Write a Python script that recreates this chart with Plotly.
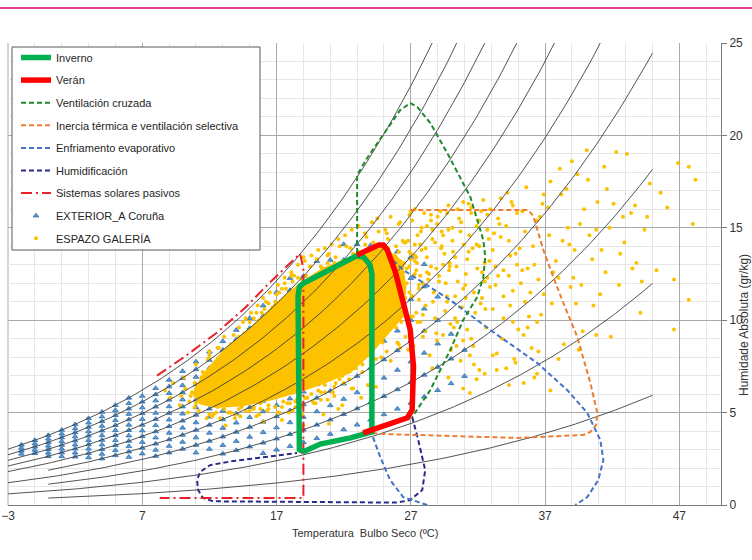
import numpy as np
import plotly.graph_objects as go

FONT = "Liberation Sans, Arial, sans-serif"

# ---------------- axes ----------------
x_range = [-3, 50.1]
y_range = [0, 25]
x_ticks = [-3, 7, 17, 27, 37, 47]
y_ticks = [0, 5, 10, 15, 20, 25]

# ---------------- relative humidity curves (psychrometric grid) ----------------
rh_levels = [100, 90, 80, 70, 60, 50, 40, 30, 20, 10]
rh_start_t = [-3, -3, -3, -3, -3, 0, -3, 0, -3, 0]
rh_end_t = 45.0

# ---------------- comfort / strategy zones (T ºC, W g/kg) ----------------
inverno_t = [19.0, 20.25, 22.5, 24.1, 24.1, 23.95, 23.5, 23.0, 19.0, 18.7, 18.6, 18.6, 18.7, 19.0]
inverno_w = [2.88, 3.3, 3.63, 3.95, 12.5, 13.0, 13.4, 13.5, 12.0, 11.8, 11.3, 3.3, 3.0, 2.88]

veran_t = [23.0, 24.0, 24.6, 24.95, 25.25, 25.85, 26.35, 26.95, 27.2, 27.1, 26.75, 25.7, 23.45]
veran_w = [13.53, 13.85, 14.07, 14.07, 13.8, 12.6, 11.1, 9.5, 7.5, 5.15, 4.72, 4.44, 3.9]

vent_t = [23.0, 23.0, 23.75, 24.5, 25.46, 26.21, 26.96, 27.48, 28.45, 29.71, 31.43, 32.4, 32.54,
          32.4, 31.95, 30.9, 29.94, 28.45, 27.1]
vent_w = [13.64, 17.86, 18.78, 19.59, 20.56, 21.37, 21.75, 21.54, 20.67, 19.05, 16.67, 14.34, 13.42,
          12.34, 11.26, 10.01, 8.39, 6.22, 4.76]

inercia_t = [26.96, 35.75, 36.12, 36.87, 37.61, 38.36, 39.4, 40.37, 40.89, 40.8, 40.37, 39.85,
             34.93, 29.94, 24.94, 24.12]
inercia_w = [15.96, 15.96, 15.64, 13.8, 12.34, 10.93, 9.09, 6.6, 4.98, 4.33, 3.95, 3.79,
             3.63, 3.73, 3.84, 3.9]

evap_t = [25.24, 26.43, 29.94, 32.92, 36.42, 38.65, 40.14, 41.11, 41.34, 40.96, 40.14, 39.25,
          None, 28.22, 26.43, 25.46, 24.72, 24.12]
evap_w = [13.53, 12.72, 11.09, 9.47, 7.68, 6.22, 4.98, 3.52, 2.44, 1.35, 0.43, 0.0,
          None, 0.0, 0.43, 1.35, 2.6, 3.79]

humid_t = [27.1, 27.55, 28.07, 27.85, 26.96, 25.99, 12.28, 11.53, 11.16, 11.08, 11.31, 12.05,
           13.77, 16.3, 18.53]
humid_w = [4.76, 3.52, 1.89, 0.81, 0.27, 0.13, 0.2, 0.38, 0.81, 1.35, 1.79, 2.16,
           2.38, 2.6, 2.81]

solar_t = [8.1, 10.2, 12.6, 14.7, 16.3, 17.8, 18.75, 19.0, 19.0, 8.3]
solar_w = [7.0, 8.05, 9.35, 10.7, 11.9, 12.95, 13.6, 12.8, 0.38, 0.38]

# ---------------- EXTERIOR_A Coruña (T ºC integer, RH % range observed, 5 % steps) ----------------
exterior_t = list(range(-2, 32))
exterior_rh_min = [85, 80, 70, 65, 60, 55, 50, 50, 45, 45, 40, 40, 40, 35, 35, 30, 30, 30,
                   25, 25, 25, 25, 25, 25, 25, 25, 25, 25, 25, 25, 25, 25, 25, 25]
exterior_rh_max = [100, 100, 100, 100, 100, 100, 100, 100, 100, 95, 95, 95, 95, 95, 95, 95, 95, 95,
                   95, 95, 95, 90, 90, 85, 85, 80, 75, 70, 65, 60, 55, 45, 35, 30]
exterior_rh_step = 5

# ---------------- ESPAZO GALERÍA ----------------
# dense core region of the cloud (solid yellow)
galeria_core_t = [10.8, 11.5, 13.0, 15.0, 17.0, 18.8, 20.5, 23.0, 25.0, 26.3, 26.6, 26.4, 25.3,
                  24.0, 22.5, 20.5, 18.5, 16.5, 14.5, 12.5, 11.3, 10.8]
galeria_core_w = [6.0, 7.0, 8.3, 9.5, 10.9, 12.0, 12.8, 13.5, 13.9, 13.2, 11.8, 10.2, 9.3,
                  8.2, 7.2, 6.6, 6.1, 5.7, 5.4, 5.3, 5.5, 6.0]
# individual readings around / beyond the core
galeria_t = [
    8.7, 9.3, 9.8, 10.1, 10.4, 10.7, 9.1, 10.9,
    11.2, 11.5, 11.8, 12.0, 12.3, 12.5, 12.7, 12.9, 11.4, 12.2, 12.6, 11.9,
    13.1, 13.4, 13.6, 13.9, 14.2, 14.4, 14.7, 14.9, 13.3, 13.8, 14.1, 14.6, 13.5, 14.8,
    15.1, 15.3, 15.6, 15.8, 16.0, 16.3, 16.5, 16.8, 15.4, 15.9, 16.2, 16.7, 15.2, 16.9,
    17.1, 17.4, 17.6, 17.9, 18.1, 18.4, 18.6, 18.9, 17.3, 17.8, 18.2, 18.7, 17.5, 18.5,
    19.1, 19.3, 19.6, 19.8, 20.1, 20.3, 20.6, 20.8, 19.4, 19.9, 20.2, 20.7, 19.2, 20.5,
    21.1, 21.4, 21.6, 21.9, 22.1, 22.4, 22.6, 22.9, 21.3, 21.8, 22.2, 22.7, 21.5, 22.5,
    23.1, 23.4, 23.6, 23.9, 24.1, 24.4, 24.6, 24.9, 23.3, 23.8, 24.2, 24.7, 23.5, 24.5,
    17.6, 18.3, 18.9, 19.5, 20.0, 20.4, 20.9, 21.3, 21.7, 19.0,
    17.4, 18.2, 19.0, 19.7, 20.5, 21.2, 21.9, 22.6, 23.3, 23.8, 18.7, 20.9,
    25.1, 25.2, 25.4, 25.5, 25.7, 25.8, 26.0, 26.1, 26.3, 26.4, 26.6, 26.7, 26.9, 25.3, 25.9, 26.2, 26.5, 26.8, 25.6, 26.95,
    27.1, 27.2, 27.4, 27.5, 27.7, 27.8, 28.0, 28.1, 28.3, 28.4, 28.6, 28.7, 28.9, 27.3, 27.9, 28.2, 28.5, 28.8, 27.6, 28.95,
    29.1, 29.2, 29.4, 29.5, 29.7, 29.8, 30.0, 30.1, 30.3, 30.4, 30.6, 30.7, 30.9, 29.3, 29.9, 30.2, 30.5, 30.8, 29.6, 30.95,
    31.1, 31.3, 31.4, 31.6, 31.8, 31.9, 32.1, 32.3, 32.4, 32.6, 32.8, 32.9, 31.2, 31.7, 32.2, 32.7, 31.5, 32.5,
    33.2, 33.4, 33.7, 33.9, 34.1, 34.4, 34.6, 34.9, 33.5, 34.2, 33.1, 34.7,
    35.1, 35.4, 35.6, 35.9, 36.2, 36.4, 36.7, 36.9, 35.3, 36.5,
    37.2, 37.5, 37.8, 38.1, 38.4, 38.7, 38.9, 37.4, 38.3,
    39.1, 39.4, 39.8, 40.1, 40.3, 40.6, 40.9, 39.6,
    41.2, 41.6, 41.9, 42.3, 42.5, 42.8, 41.4,
    43.1, 43.5, 43.7, 44.1, 44.4, 44.8,
    45.6, 46.6, 46.9, 47.7, 48.2, 48.0, 47.7, 46.6,
    28.6, 29.8, 30.9, 31.4, 32.5, 33.4, 34.3, 35.4, 36.4, 37.4,
    24.1, 24.3, 24.5, 24.7, 24.9, 25.1, 25.3, 25.5, 25.7, 25.9, 26.1, 26.3, 26.5, 26.7, 26.9, 27.1, 27.3, 27.5, 27.7, 27.9, 24.6, 25.4, 26.2, 27.0,
    11.0, 11.4, 11.9, 12.3, 12.8, 13.0, 13.4, 13.9, 14.2, 14.6, 15.0, 15.3, 15.7, 16.1, 16.4, 16.9, 17.2, 17.7, 18.2, 18.6, 12.1, 13.6, 15.9, 17.0,
    19.2, 19.7, 20.3, 20.8, 21.4, 21.9, 22.5, 23.1, 23.6, 24.2, 24.8, 25.3,
    25.9, 26.4, 26.7, 26.6, 26.5, 26.9, 26.3, 25.6, 27.2, 27.0,
    25.2, 24.6, 23.9, 23.5, 22.8, 22.4, 21.7, 21.3, 24.1, 23.0,
    20.6, 20.1, 19.6, 19.1, 18.5, 18.0, 17.5, 16.9, 16.4, 15.8, 15.3, 14.7, 14.2, 13.6, 13.1, 12.6, 12.0, 11.5, 20.3, 18.9, 17.2, 15.5, 13.9, 12.3,
    11.0, 10.6, 11.3, 10.9,
    27.15, 27.45, 27.75, 28.05, 28.35, 28.65, 28.95, 29.25, 29.55, 29.85, 27.3, 27.6, 27.9, 28.2, 28.5, 28.8, 29.1, 29.4, 29.7, 29.95,
    30.15, 30.45, 30.75, 31.05, 31.35, 31.65, 31.95, 32.25, 32.55, 32.85, 30.3, 30.9, 31.5, 32.1, 32.7, 31.2,
    33.3, 33.6, 33.9, 34.3, 34.6, 34.9, 35.3, 35.7, 36.1, 36.5, 36.8, 33.8, 34.5, 35.5,
    37.6, 38.2, 38.8, 39.3, 39.9, 40.5, 41.1, 41.8, 42.6, 43.4, 44.2, 39.0,
    30.4, 31.9, 33.1, 34.8, 36.0, 38.0, 39.5, 40.8,
    12.0, 12.8, 13.5, 14.3, 15.0, 15.7, 16.4, 17.1, 17.8, 18.4, 19.2, 19.9, 20.6, 21.3, 22.0, 22.7, 23.4, 24.1, 24.8, 25.5, 26.1, 26.8, 13.2, 16.0, 18.9, 21.6, 24.4,
    27.0, 27.3, 27.1, 27.4, 26.9, 27.6, 26.8,
    11.0, 12.0, 12.6, 13.8, 14.5, 15.5, 16.2, 17.4, 18.1, 19.5, 20.8, 22.2, 23.7, 25.2,
    10.2, 10.5, 9.9,
    26.2, 26.6, 27.0, 27.4, 27.8, 28.2, 28.6, 29.0, 29.4, 29.8, 26.4, 26.9, 27.3, 27.7, 28.1, 28.5, 28.9, 29.3, 29.7, 29.9,
    30.1, 30.5, 30.9, 31.3, 31.7, 32.1, 32.5, 32.9, 33.3, 33.7, 30.3, 30.7, 31.1, 31.5, 31.9, 32.3, 32.7, 33.1, 33.5, 33.9,
    34.1, 34.4, 34.8, 35.2, 35.5, 35.8, 36.2, 36.6, 36.9, 34.6, 35.0, 35.7, 36.4, 34.3,
    37.3, 38.0, 38.6, 39.2, 39.7, 40.2, 40.8, 41.5, 42.1, 42.9, 43.8, 44.6, 45.3, 46.1,
]
galeria_w = [
    6.2, 6.6, 5.4, 6.9, 5.0, 6.1, 5.8, 5.3,
    5.1, 7.2, 4.7, 8.1, 6.4, 5.0, 8.5, 7.6, 6.3, 4.8, 6.9, 7.9,
    9.1, 5.0, 8.7, 4.9, 9.6, 5.3, 10.1, 5.6, 7.0, 6.2, 8.0, 7.4, 5.4, 9.0,
    10.4, 5.2, 10.8, 5.5, 11.2, 5.1, 11.5, 5.9, 7.9, 9.2, 6.8, 10.7, 6.1, 8.4,
    11.9, 5.3, 12.3, 5.0, 12.6, 5.6, 13.0, 5.4, 8.6, 10.1, 7.2, 11.4, 6.4, 9.7,
    13.2, 5.8, 13.5, 5.5, 13.8, 6.1, 13.9, 5.7, 9.3, 11.6, 8.0, 12.5, 7.1, 10.4,
    14.1, 6.6, 14.4, 7.0, 14.6, 6.8, 14.9, 7.4, 10.2, 12.9, 8.6, 13.6, 7.8, 11.3,
    15.1, 7.6, 14.7, 8.2, 15.3, 7.9, 14.8, 8.8, 11.0, 13.9, 9.4, 12.6, 8.5, 15.5,
    12.0, 12.4, 12.2, 12.9, 13.3, 12.8, 13.6, 13.1, 14.0, 13.4,
    4.6, 5.1, 4.3, 5.6, 4.9, 6.1, 5.4, 6.3, 5.8, 6.5, 5.9, 4.4,
    14.9, 8.3, 12.1, 15.6, 9.7, 13.5, 8.8, 15.2, 11.4, 14.3, 9.1, 12.8, 15.7, 10.6, 14.0, 8.5, 13.1, 10.0, 11.8, 9.4,
    15.4, 8.6, 12.7, 14.6, 9.9, 13.8, 15.8, 10.8, 12.2, 8.1, 14.9, 11.5, 9.3, 13.2, 10.3, 15.1, 12.9, 14.2, 11.1, 8.9,
    12.4, 15.9, 9.2, 13.6, 11.0, 16.2, 8.4, 14.3, 10.1, 12.9, 15.5, 7.8, 11.7, 14.8, 13.1, 9.6, 16.0, 10.7, 12.0, 14.1,
    11.2, 16.3, 8.1, 13.9, 10.4, 15.1, 7.3, 12.6, 16.5, 9.6, 14.4, 11.8, 13.3, 7.6, 10.9, 15.7, 9.0, 12.1,
    14.7, 8.2, 16.6, 11.3, 7.4, 13.5, 9.9, 15.8, 12.4, 16.9, 10.6, 7.9,
    13.9, 9.2, 17.2, 11.5, 6.9, 15.4, 10.3, 16.8, 12.7, 8.3,
    16.1, 10.9, 13.2, 18.2, 8.7, 15.0, 11.8, 17.5, 14.3,
    12.3, 17.9, 9.4, 19.2, 14.6, 10.8, 16.4, 15.2,
    13.8, 17.1, 9.1, 19.1, 11.9, 15.6, 18.3,
    19.0, 12.8, 16.2, 10.4, 14.9, 17.4,
    16.9, 12.2, 18.5, 18.3, 17.6, 15.2, 11.1, 9.5,
    7.4, 6.9, 6.3, 6.06, 7.1, 7.3, 6.5, 6.6, 7.1, 6.2,
    12.2, 10.4, 13.8, 11.1, 9.8, 13.0, 14.4, 10.9, 12.5, 9.6, 13.7, 11.6, 14.2, 10.1, 12.9, 11.3, 13.5, 9.9, 14.1, 12.0, 10.7, 11.9, 12.7, 13.3,
    6.3, 6.9, 7.0, 7.5, 7.6, 8.2, 8.4, 8.5, 9.1, 9.3, 9.9, 10.1, 10.0, 10.6, 10.9, 11.0, 11.5, 11.7, 12.1, 12.3, 6.8, 7.9, 10.4, 11.4,
    12.4, 12.2, 12.9, 13.1, 13.4, 13.2, 13.9, 13.7, 14.1, 14.2, 14.0, 13.9,
    13.4, 12.6, 12.0, 11.2, 10.6, 11.5, 9.9, 9.8, 12.4, 10.2,
    9.3, 9.2, 8.6, 8.2, 8.0, 7.2, 6.8, 6.4, 9.0, 7.6,
    6.5, 6.2, 6.0, 5.8, 5.7, 5.5, 5.6, 5.3, 5.4, 5.2, 5.3, 5.1, 5.2, 5.0, 5.2, 5.3, 5.5, 5.7, 5.7, 5.3, 5.0, 4.8, 4.7, 4.9,
    5.5, 5.9, 6.1, 6.6,
    10.2, 13.1, 14.8, 9.4, 12.5, 11.0, 15.2, 13.9, 10.5, 12.7, 14.1, 11.7, 9.1, 13.4, 15.4, 10.1, 12.1, 14.6, 11.3, 9.8,
    13.7, 9.9, 15.3, 11.9, 14.6, 8.6, 12.8, 15.9, 10.6, 13.2, 11.3, 8.9, 16.1, 14.0, 12.3, 9.5,
    12.9, 15.2, 10.1, 14.3, 11.6, 13.0, 15.9, 9.6, 14.0, 12.2, 16.3, 9.0, 16.4, 11.0,
    12.6, 16.8, 14.1, 10.9, 16.0, 13.3, 11.4, 15.0, 13.6, 15.8, 12.1, 18.6,
    8.6, 6.8, 8.1, 7.7, 8.5, 7.9, 8.4, 9.2,
    4.9, 4.7, 5.0, 4.8, 5.1, 4.9, 5.2, 5.0, 5.5, 5.3, 5.8, 5.5, 6.1, 5.9, 6.6, 6.3, 7.2, 7.0, 8.0, 7.8, 8.7, 8.4, 4.3, 4.5, 4.9, 5.2, 6.4,
    13.6, 12.5, 11.3, 10.4, 9.6, 11.9, 14.3,
    7.6, 8.3, 8.5, 9.2, 9.9, 10.4, 11.0, 11.7, 12.4, 12.9, 13.5, 14.0, 14.5, 14.7,
    6.3, 5.6, 5.9,
    15.3, 14.2, 15.9, 13.4, 15.0, 12.6, 14.4, 15.6, 13.0, 14.9, 12.9, 13.7, 16.0, 12.4, 13.9, 15.7, 12.8, 14.0, 15.8, 12.9,
    15.0, 12.1, 16.4, 13.7, 11.5, 15.4, 13.1, 16.0, 11.9, 14.5, 13.4, 14.8, 12.5, 15.8, 14.1, 11.2, 14.9, 13.8, 15.5, 12.7,
    15.1, 10.8, 13.6, 12.0, 14.8, 10.2, 13.0, 15.6, 11.4, 16.2, 9.5, 12.8, 9.9, 12.4,
    14.6, 12.3, 17.1, 13.8, 11.9, 17.6, 14.9, 12.6, 16.3, 14.2, 13.1, 15.6, 12.7, 16.1,
]


def humidity_ratio(t, rh):
    """Humidity ratio (g/kg) at sea level for dry-bulb t (ºC) and relative humidity rh (%)."""
    t = np.asarray(t, dtype=float)
    pws = 0.61078 * np.exp(17.27 * t / (t + 237.3))
    pw = rh / 100.0 * pws
    return 622.0 * pw / (101.325 - pw)


# ---------- build derived arrays ----------
curve_x, curve_y = [], []
for rh, t0 in zip(rh_levels, rh_start_t):
    ts = np.arange(t0, rh_end_t + 1e-9, 0.25)
    ws = humidity_ratio(ts, rh)
    keep = ws <= 27
    curve_x += list(ts[keep]) + [None]
    curve_y += list(ws[keep]) + [None]

ext_x, ext_y = [], []
for t, lo, hi in zip(exterior_t, exterior_rh_min, exterior_rh_max):
    for rh in range(lo, hi + 1, exterior_rh_step):
        ext_x.append(t)
        ext_y.append(float(humidity_ratio(t, rh)))

n_gal = min(len(galeria_t), len(galeria_w))

fig = go.Figure()

# EXTERIOR
fig.add_trace(go.Scatter(
    x=ext_x, y=ext_y, mode="markers", name="EXTERIOR_A Coruña",
    marker=dict(symbol="triangle-up", size=5, color="#5b9bd5",
                line=dict(color="#2f6fad", width=0.8)),
    legendrank=8, legendgroup="ext", hoverinfo="skip"))

# ESPAZO GALERÍA dense core + points
fig.add_trace(go.Scatter(
    x=galeria_core_t, y=galeria_core_w, mode="lines", fill="toself",
    fillcolor="#fcc200", line=dict(color="#fcc200", width=2),
    showlegend=False, legendgroup="gal", legendrank=9, hoverinfo="skip"))
fig.add_trace(go.Scatter(
    x=galeria_t[:n_gal], y=galeria_w[:n_gal], mode="markers", name="ESPAZO GALERÍA",
    marker=dict(symbol="circle", size=4, color="#fcc200"),
    legendrank=9, legendgroup="gal", hoverinfo="skip"))

# RH curves
fig.add_trace(go.Scatter(
    x=curve_x, y=curve_y, mode="lines", line=dict(color="#404040", width=0.9),
    showlegend=False, hoverinfo="skip", connectgaps=False))

dash_s = "5px,3px"
fig.add_trace(go.Scatter(x=humid_t, y=humid_w, mode="lines", name="Humidificación",
                         line=dict(color="#2b2a86", width=2, dash=dash_s),
                         legendrank=6, legendgroup="hum", hoverinfo="skip"))
fig.add_trace(go.Scatter(x=evap_t, y=evap_w, mode="lines", name="Enfriamento evaporativo",
                         line=dict(color="#4472c4", width=2, dash=dash_s),
                         legendrank=5, legendgroup="evap", hoverinfo="skip", connectgaps=False))
fig.add_trace(go.Scatter(x=inercia_t, y=inercia_w, mode="lines",
                         name="Inercia térmica e ventilación selectiva",
                         line=dict(color="#ed7d31", width=2, dash=dash_s),
                         legendrank=4, legendgroup="in", hoverinfo="skip"))
fig.add_trace(go.Scatter(x=vent_t, y=vent_w, mode="lines", name="Ventilación cruzada",
                         line=dict(color="#1e8a2a", width=2, dash=dash_s),
                         legendrank=3, legendgroup="vc", hoverinfo="skip"))
fig.add_trace(go.Scatter(x=solar_t, y=solar_w, mode="lines", name="Sistemas solares pasivos",
                         line=dict(color="#e8202a", width=2, dash="11px,4px,2px,4px"),
                         legendrank=7, legendgroup="sol", hoverinfo="skip"))
fig.add_trace(go.Scatter(x=inverno_t, y=inverno_w, mode="lines", name="Inverno",
                         line=dict(color="#00b050", width=5.5),
                         legendrank=1, legendgroup="inv", hoverinfo="skip"))
fig.add_trace(go.Scatter(x=veran_t, y=veran_w, mode="lines", name="Verán",
                         line=dict(color="#ff0000", width=5.5),
                         legendrank=2, legendgroup="ver", hoverinfo="skip"))

# ---------- layout ----------
L, R, T, B = 8, 31, 43, 55
W, H = 752, 560
pw, ph = W - L - R, H - T - B


def px_x(px):
    return (px - L) / pw


def px_y(py):
    return 1 - (py - T) / ph


fig.update_layout(
    width=W, height=H,
    margin=dict(l=L, r=R, t=T, b=B, pad=0, autoexpand=False),
    paper_bgcolor="white", plot_bgcolor="white",
    font=dict(family=FONT, size=12, color="#333333"),
    showlegend=True,
    legend=dict(x=px_x(16), y=px_y(43), xanchor="left", yanchor="top",
                bgcolor="rgba(0,0,0,0)", borderwidth=0,
                font=dict(family=FONT, size=11, color="#262626"),
                itemwidth=30, tracegroupgap=3.6, traceorder="grouped"),
    xaxis=dict(range=x_range, tickvals=x_ticks, showgrid=True, gridcolor="#a9a9a9", gridwidth=1,
               minor=dict(dtick=2, tick0=-3, showgrid=True, gridcolor="#e6e6e6", gridwidth=1),
               showline=True, linecolor="#7a7a7a", linewidth=1, mirror=False, automargin=False,
               zeroline=False, ticks="", tickfont=dict(family=FONT, size=12, color="#333333")),
    yaxis=dict(range=y_range, tickvals=y_ticks, side="right", showgrid=True, gridcolor="#a9a9a9",
               gridwidth=1, automargin=False,
               minor=dict(dtick=1, tick0=0, showgrid=True, gridcolor="#e6e6e6", gridwidth=1),
               showline=True, linecolor="#7a7a7a", linewidth=1, zeroline=False,
               ticks="outside", ticklen=5, tickcolor="#7a7a7a",
               tickfont=dict(family=FONT, size=12, color="#333333")),
    shapes=[
        dict(type="rect", xref="paper", yref="paper", x0=px_x(12), x1=px_x(260),
             y0=px_y(250), y1=px_y(47), line=dict(color="#595959", width=1),
             fillcolor="white", layer="above"),
        dict(type="line", xref="paper", yref="paper", x0=px_x(0), x1=px_x(752),
             y0=px_y(8), y1=px_y(8), line=dict(color="#e6007e", width=1.5)),
        dict(type="line", xref="paper", yref="paper", x0=0, x1=0, y0=0, y1=1,
             line=dict(color="#a9a9a9", width=1), layer="below"),
    ],
    annotations=[
        dict(text="Temperatura  Bulbo Seco (ºC)", xref="paper", yref="paper",
             x=px_x(365), y=px_y(533), showarrow=False, xanchor="center", yanchor="middle",
             font=dict(family=FONT, size=11, color="#333333")),
        dict(text="Humidade Absoluta (gr/kg)", xref="paper", yref="paper",
             x=px_x(744), y=px_y(325), showarrow=False, xanchor="center", yanchor="middle",
             textangle=-90, font=dict(family=FONT, size=12, color="#333333")),
    ],
)

fig.write_html("out.html", config={"displayModeBar": False},
               post_script="document.body.style.margin='0px';document.body.style.overflow='hidden';")
